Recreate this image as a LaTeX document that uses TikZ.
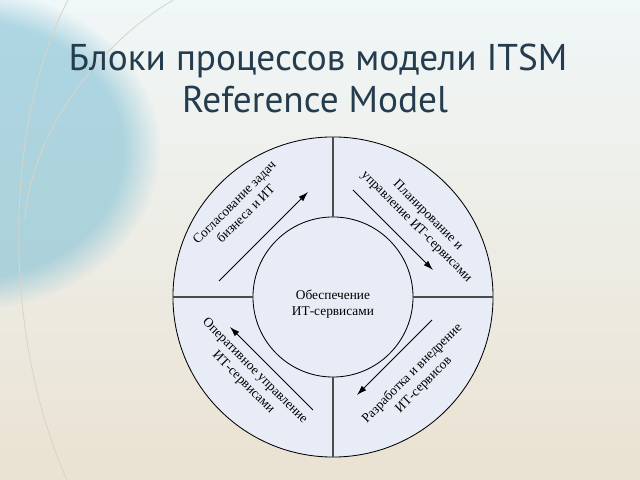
\documentclass[tikz,border=0pt]{standalone}
\usepackage{fontspec}
\setmainfont{Liberation Serif}
\newfontfamily\titlefont{PT Sans}
\usetikzlibrary{positioning,arrows.meta,fadings}
\definecolor{titleblue}{RGB}{36,60,78}
\definecolor{discfill}{RGB}{232,236,247}
\definecolor{bgtop}{RGB}{240,247,248}
\definecolor{bgbottom}{RGB}{234,226,210}
\definecolor{bgcyan}{RGB}{120,188,212}
\definecolor{swirl}{RGB}{216,212,198}

\begin{document}
\begin{tikzpicture}[
    x=0.025cm, y=0.025cm,
    disc/.style={circle, draw=black, line width=0.6pt, fill=discfill, inner sep=0pt},
    divider/.style={draw=black!70, line width=0.8pt},
    lbl/.style={font=\fontsize{9.5}{11.5}\selectfont, align=center, inner sep=1pt},
    heading/.style={font=\titlefont\fontsize{26.5}{30}\selectfont, text=titleblue, anchor=base},
    flow/.style={-{Latex[length=7pt,width=4.5pt]}, line width=0.6pt}
]
% background
\useasboundingbox (0,0) rectangle (640,480);
\shade[top color=bgtop, bottom color=bgbottom] (0,0) rectangle (640,480);
\fill[bgcyan, opacity=0.55, path fading=circle with fuzzy edge 20 percent] (-30,330) ellipse (190 and 160);
\draw[swirl, line width=0.6pt] (68,480) .. controls (5,360) and (0,150) .. (67,0);
\draw[swirl, line width=0.6pt] (173,480) .. controls (90,430) and (30,340) .. (25,260);

% title
\node[heading] (title) at (318,409) {Блоки процессов модели ITSM};
\node[heading] (subtitle) at (315,367) {Reference Model};

% discs
\node[disc, minimum size=8cm] (outer) at (333,183) {};
\node[disc, minimum size=4cm] (hub) at (outer.center) {};
\node[lbl, yshift=-5] (core) at (hub.center) {Обеспечение\\ИТ-сервисами};

\draw[divider] (hub.north) -- (outer.north);
\draw[divider] (hub.south) -- (outer.south);
\draw[divider] (hub.west) -- (outer.west);
\draw[divider] (hub.east) -- (outer.east);

% quadrant labels
\node[lbl, rotate=45] (align) at (240,272) {Согласование задач\\бизнеса и ИТ};
\node[lbl, rotate=-45] (plan) at (422,259) {Планирование и\\управление ИТ-сервисами};
\node[lbl, rotate=-45] (ops) at (249,103) {Оперативное управление\\ИТ-сервисами};
\node[lbl, rotate=45] (dev) at (418,101) {Разработка и внедрение\\ИТ-сервисов};

% cycle arrows
\coordinate (a1) at (219,199);
\coordinate (a2) at (308,288);
\coordinate (b1) at (353,290);
\coordinate (b2) at (433,210);
\coordinate (c1) at (432,160);
\coordinate (c2) at (357,85);
\coordinate (d1) at (313,70);
\coordinate (d2) at (230,153);
\draw[flow] (a1) -- (a2);
\draw[flow] (b1) -- (b2);
\draw[flow] (c1) -- (c2);
\draw[flow] (d1) -- (d2);
\end{tikzpicture}
\end{document}
